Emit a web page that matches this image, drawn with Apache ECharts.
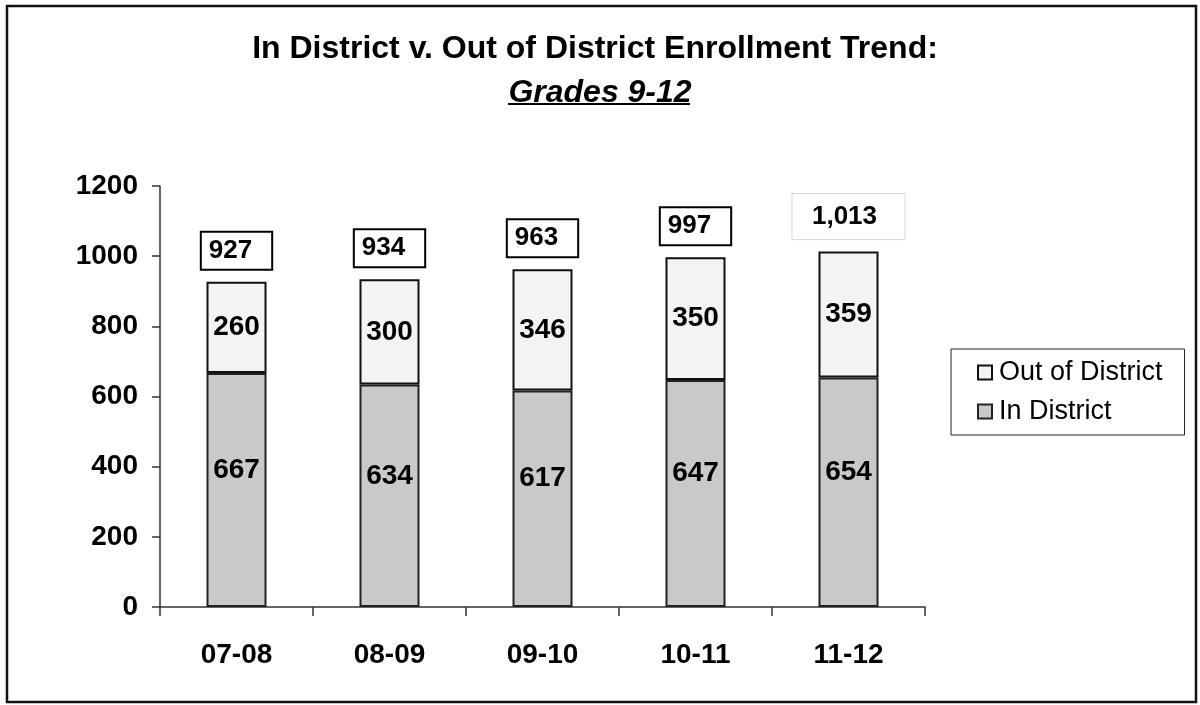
<!DOCTYPE html>
<html>
<head>
<meta charset="utf-8">
<script src="https://cdn.jsdelivr.net/npm/echarts@6/dist/echarts.min.js"></script>
<style>html,body{margin:0;padding:0;background:#fff}#c{width:1200px;height:705px}</style>
</head>
<body>
<div id="c"></div>
<script>
const categories = ['07-08', '08-09', '09-10', '10-11', '11-12'];
const inDistrict = [667, 634, 617, 647, 654];
const outDistrict = [260, 300, 346, 350, 359];
const totals = [927, 934, 963, 997, 1013];
const totalLabels = ['927', '934', '963', '997', '1,013'];
const yTicks = [0, 200, 400, 600, 800, 1000, 1200];

const FONT = 'Liberation Sans, Arial, Helvetica, sans-serif';
const chart = echarts.init(document.getElementById('c'), null, {renderer: 'canvas'});

const totalData = totals.map((v, i) => {
  const last = i === totals.length - 1;
  return {
    value: v,
    label: {
      formatter: totalLabels[i],
      borderColor: last ? '#d8d8d8' : '#000',
      borderWidth: last ? 1 : 2,
      padding: last ? [10, 28, 10, 20] : [6, 20, 6, 8]
    }
  };
});

chart.setOption({
  animation: false,
  backgroundColor: '#fff',
  title: [
    {text: 'In District v. Out of District Enrollment Trend:', left: 590, top: 28, textAlign: 'center',
     textStyle: {fontFamily: FONT, fontSize: 32, fontWeight: 'bold', color: '#000'}},
    {text: 'Grades 9-12', left: 595, top: 72, textAlign: 'center',
     textStyle: {fontFamily: FONT, fontSize: 32, fontWeight: 'bold', fontStyle: 'italic', color: '#000'}}
  ],
  graphic: [
    {type: 'rect', shape: {x: 7, y: 6, width: 1189, height: 696}, style: {fill: 'none', stroke: '#111', lineWidth: 2.5}, silent: true},
    {type: 'line', shape: {x1: 508, y1: 104, x2: 690, y2: 104}, style: {stroke: '#000', lineWidth: 2}, silent: true}
  ],
  legend: {
    orient: 'vertical',
    left: 951,
    top: 349,
    data: ['Out of District', 'In District'],
    backgroundColor: '#fff',
    borderColor: '#222',
    borderWidth: 1,
    padding: [10, 22, 10, 26],
    itemWidth: 14,
    itemHeight: 14,
    itemGap: 12,
    icon: 'rect',
    textStyle: {fontFamily: FONT, fontSize: 27, color: '#000', padding: [0, 0, 0, 2]}
  },
  grid: {left: 160, right: 275, top: 186, bottom: 98},
  xAxis: {
    type: 'category',
    data: categories,
    axisLine: {lineStyle: {color: '#333', width: 1.5}},
    axisTick: {show: true, length: 9, alignWithLabel: false, lineStyle: {color: '#333', width: 1.5}},
    axisLabel: {fontFamily: FONT, fontSize: 28, fontWeight: 'bold', color: '#000', margin: 34}
  },
  yAxis: {
    type: 'value',
    min: 0,
    max: 1200,
    interval: 200,
    splitLine: {show: false},
    axisLine: {show: true, lineStyle: {color: '#333', width: 1.5}},
    axisTick: {show: true, length: 8, lineStyle: {color: '#333', width: 1.5}},
    axisLabel: {fontFamily: FONT, fontSize: 28, fontWeight: 'bold', color: '#000', margin: 22,
      formatter: v => yTicks.includes(v) ? String(v) : ''}
  },
  series: [
    {
      name: 'In District',
      type: 'bar',
      stack: 'enroll',
      barWidth: 60,
      data: inDistrict,
      itemStyle: {color: '#c9c9c9', borderColor: '#222', borderWidth: 2},
      label: {show: true, position: 'inside', offset: [0, -20], fontFamily: FONT, fontSize: 28, fontWeight: 'bold', color: '#000'}
    },
    {
      name: 'Out of District',
      type: 'bar',
      stack: 'enroll',
      barWidth: 60,
      data: outDistrict,
      itemStyle: {color: '#f3f3f3', borderColor: '#111', borderWidth: 2},
      label: {show: true, position: 'inside', fontFamily: FONT, fontSize: 28, fontWeight: 'bold', color: '#000'}
    },
    {
      name: 'Total',
      type: 'scatter',
      symbolSize: 0,
      data: totalData,
      silent: true,
      itemStyle: {opacity: 1, color: '#000'},
      label: {show: true, position: 'top', distance: 12, fontFamily: FONT, fontSize: 26, fontWeight: 'bold', color: '#000', opacity: 1}
    }
  ]
});
</script>
</body>
</html>
